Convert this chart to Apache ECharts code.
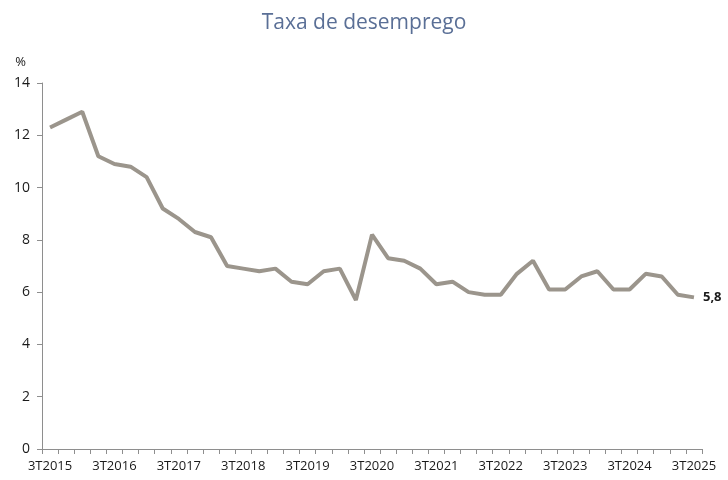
<!DOCTYPE html>
<html>
<head>
<meta charset="utf-8">
<script src="https://cdn.jsdelivr.net/npm/echarts@6/dist/echarts.min.js"></script>
<style>
  html, body { margin: 0; padding: 0; background: #fff; }
  #chart { width: 728px; height: 480px; }
</style>
</head>
<body>
<div id="chart"></div>
<script>
// trimestres 3T2015 .. 3T2025
var quarters = [];
for (var y = 2015; y <= 2025; y++) {
  for (var q = 1; q <= 4; q++) {
    if ((y === 2015 && q < 3) || (y === 2025 && q > 3)) continue;
    quarters.push(q + 'T' + y);
  }
}

var taxa = [
  12.3, 12.6, 12.9, 11.2, 10.9, 10.8, 10.4, 9.2, 8.8, 8.3,
  8.1, 7.0, 6.9, 6.8, 6.9, 6.4, 6.3, 6.8, 6.9, 5.7,
  8.2, 7.3, 7.2, 6.9, 6.3, 6.4, 6.0, 5.9, 5.9, 6.7,
  7.2, 6.1, 6.1, 6.6, 6.8, 6.1, 6.1, 6.7, 6.6, 5.9,
  5.8
];

var yTicks = [0, 2, 4, 6, 8, 10, 12, 14];

var chart = echarts.init(document.getElementById('chart'));

var option = {
  animation: false,
  title: {
    text: 'Taxa de desemprego',
    left: 'center',
    top: 8,
    textStyle: {
      color: '#5a6f96',
      fontSize: 21,
      fontWeight: 'normal',
      fontFamily: 'Open Sans'
    }
  },
  grid: {
    left: 42,
    right: 26,
    top: 83,
    bottom: 31
  },
  xAxis: {
    type: 'category',
    data: quarters,
    boundaryGap: true,
    axisLine: { lineStyle: { color: '#8e8e8e', width: 1 } },
    axisTick: {
      show: true,
      interval: 0,
      length: 5,
      lineStyle: { color: '#8e8e8e' }
    },
    axisLabel: {
      interval: 3,
      color: '#1a1a1a',
      fontSize: 13,
      fontFamily: 'Open Sans',
      margin: 11
    }
  },
  yAxis: {
    type: 'value',
    min: yTicks[0],
    max: yTicks[yTicks.length - 1],
    interval: 2,
    name: '%',
    nameLocation: 'end',
    nameGap: 14,
    nameTextStyle: {
      color: '#1a1a1a',
      fontSize: 13,
      fontFamily: 'Open Sans',
      align: 'right',
      padding: [0, 16, 0, 0]
    },
    splitLine: { show: false },
    axisLine: { show: true, lineStyle: { color: '#8e8e8e', width: 1 } },
    axisTick: { show: true, length: 5, lineStyle: { color: '#8e8e8e' } },
    axisLabel: {
      color: '#1a1a1a',
      fontSize: 14,
      fontFamily: 'Open Sans',
      margin: 12
    }
  },
  series: [
    {
      type: 'line',
      data: taxa,
      symbol: 'none',
      lineStyle: { color: '#9b958c', width: 4 },
      endLabel: {
        show: true,
        formatter: function (p) {
          return String(p.value).replace('.', ',');
        },
        color: '#1a1a1a',
        fontSize: 13,
        fontWeight: 'bold',
        fontFamily: 'Open Sans',
        distance: 9
      }
    }
  ]
};

chart.setOption(option);
</script>
</body>
</html>
